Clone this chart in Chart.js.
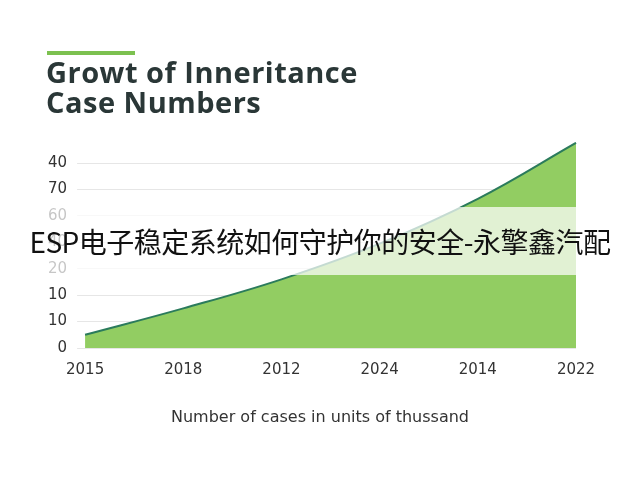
<!DOCTYPE html>
<html><head><meta charset="utf-8">
<script src="https://cdn.jsdelivr.net/npm/chart.js@4"></script>
<style>
body{margin:0;background:#fff;width:640px;height:480px;overflow:hidden;position:relative}
#bar{position:absolute;left:47px;top:51px;width:88px;height:4px;background:#7cc150}
#title{position:absolute;left:46px;top:57px;font:bold 29px "Open Sans",sans-serif;color:#2a3737;line-height:30px;letter-spacing:0.5px}
#banner{position:absolute;left:0;top:207px;width:640px;height:68px;background:rgba(255,255,255,0.72);font:28px "Noto Sans CJK SC",sans-serif;color:#111;line-height:68px;text-align:center;white-space:nowrap;letter-spacing:-0.5px}
#xt{position:absolute;left:0;width:640px;top:407px;text-align:center;font:16px "DejaVu Sans",sans-serif;color:#333;padding-left:0}
canvas{position:absolute;left:0;top:0}
</style></head><body>
<div style="position:absolute;left:0;top:0;width:640px;height:480px"><canvas id="c"></canvas></div>
<div id="bar"></div>
<div id="title">Growt of Inneritance<br>Case Numbers</div>
<div id="banner">ESP电子稳定系统如何守护你的安全-永擎鑫汽配</div>
<div id="xt">Number of cases in units of thussand</div>
<script>
const categories=["2015","2018","2012","2024","2014","2022"];
const values=[0.5,1.5,2.6,3.95,5.65,7.77];
const yTickLabels=["0","10","10","20","40","60","70","40"];
new Chart(document.getElementById('c'),{
type:'line',
data:{labels:categories,datasets:[{data:values,fill:'origin',backgroundColor:'#92cd62',borderColor:'#2b7b5c',borderWidth:2,pointRadius:0,tension:0.4}]},
options:{responsive:true,maintainAspectRatio:false,animation:false,
layout:{padding:{left:38,right:64,top:142,bottom:96}},
plugins:{legend:{display:false},tooltip:{enabled:false}},
scales:{
x:{offset:false,grid:{display:false},border:{display:false},ticks:{color:'#333',font:{size:15,family:'DejaVu Sans'},padding:5}},
y:{min:0,max:7.8,border:{display:false},grid:{color:'#e6e6e6'},
afterBuildTicks:a=>{a.ticks=yTickLabels.map((_,i)=>({value:i}));},
ticks:{color:'#333',font:{size:15,family:'DejaVu Sans'},padding:10,callback:(v)=>yTickLabels[v]}}
}}});
</script></body></html>
